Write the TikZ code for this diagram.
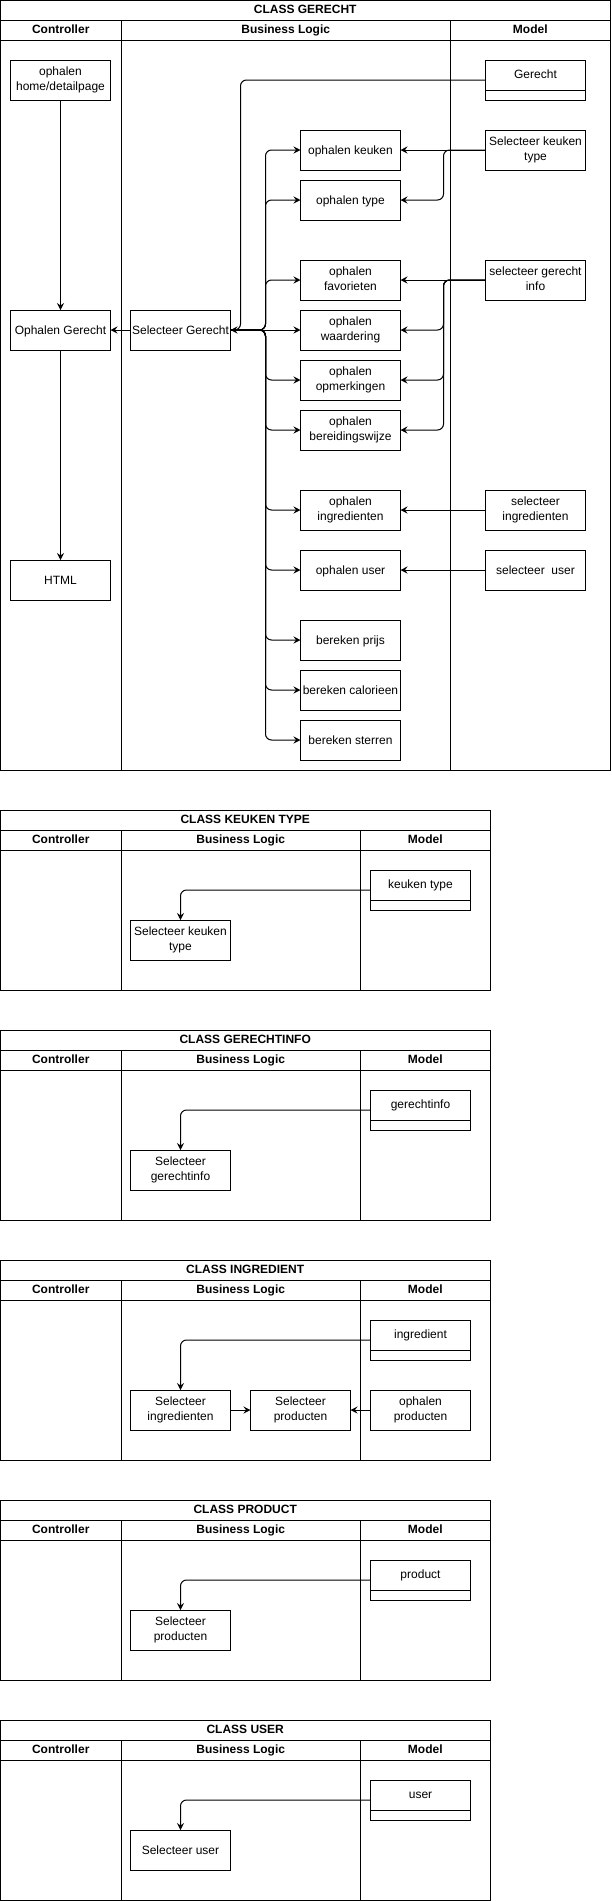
\documentclass[tikz,border=0pt]{standalone}
\usepackage{fontspec}
\setmainfont{Liberation Sans}
\usetikzlibrary{arrows.meta,positioning}
\tikzset{
  lanetitle/.style={draw,outer sep=0pt,inner sep=0pt,minimum height=20pt,text height=9pt,text depth=3pt,font=\fontsize{12}{14}\selectfont\bfseries},
  lanehead/.style={draw,outer sep=0pt,inner sep=0pt,minimum height=20pt,text height=9pt,text depth=3pt,font=\fontsize{12}{14}\selectfont\bfseries},
  lanebody/.style={draw,outer sep=0pt,inner sep=0pt},
  block/.style={draw,outer sep=0pt,inner sep=1pt,minimum width=100pt,minimum height=40pt,align=center,font=\fontsize{12}{14.4}\selectfont,
    execute at begin node={\rule[-3pt]{0pt}{14.4pt}},execute at end node={\rule[-3pt]{0pt}{14.4pt}}},
  classbox/.style={draw,outer sep=0pt,inner sep=1pt,minimum width=100pt,minimum height=40pt,font=\fontsize{12}{14.4}\selectfont,text height=8pt,text depth=12pt,
    path picture={\draw ([yshift=10pt]path picture bounding box.south west) -- ([yshift=10pt]path picture bounding box.south east);}},
  flowline/.style={-{Stealth[length=7pt,width=7pt,inset=2.5pt]},rounded corners=6pt}
}

\begin{document}
\begin{tikzpicture}[x=1pt,y=-1pt,line width=1pt,node distance=10pt]
  \useasboundingbox (0,0) rectangle (611,1901);

  % class gerecht
  \node[lanetitle,minimum width=609.5pt,anchor=north west] (gTitle) at (0.5,0.5) {CLASS GERECHT};
  \node[lanehead,minimum width=120.5pt,below right=0pt of gTitle.south west] (gCtrlHead) {Controller};
  \node[lanehead,minimum width=329.5pt,right=0pt of gCtrlHead] (gLogicHead) {Business Logic};
  \node[lanehead,minimum width=159.5pt,right=0pt of gLogicHead] (gModelHead) {Model};
  \node[lanebody,minimum width=120.5pt,minimum height=729.5pt,below=0pt of gCtrlHead] (gCtrl) {};
  \node[lanebody,minimum width=329.5pt,minimum height=729.5pt,below=0pt of gLogicHead] (gLogic) {};
  \node[lanebody,minimum width=159.5pt,minimum height=729.5pt,below=0pt of gModelHead] (gModel) {};

  \node[block] (ophHome) at (60.5,80) {ophalen\\home/detailpage};
  \node[block] (ophGerecht) at (60.5,330) {Ophalen Gerecht};
  \node[block] (html) at (60.5,580) {HTML};
  \node[block] (selGerecht) at (180.5,330) {Selecteer Gerecht};

  \node[block] (ophKeuken) at (350.5,150) {ophalen keuken};
  \node[block,below=of ophKeuken] (ophType) {ophalen type};
  \node[block] (ophFavorieten) at (350.5,280) {ophalen\\favorieten};
  \node[block,below=of ophFavorieten] (ophWaardering) {ophalen\\waardering};
  \node[block,below=of ophWaardering] (ophOpmerkingen) {ophalen\\opmerkingen};
  \node[block,below=of ophOpmerkingen] (ophBereiding) {ophalen\\bereidingswijze};
  \node[block] (ophIngredienten) at (350.5,510) {ophalen\\ingredienten};
  \node[block,below=20pt of ophIngredienten] (ophUser) {ophalen user};
  \node[block,below=30pt of ophUser] (berPrijs) {bereken prijs};
  \node[block,below=of berPrijs] (berCalorieen) {bereken calorieen};
  \node[block,below=of berCalorieen] (berSterren) {bereken sterren};

  \node[classbox] (gerecht) at (535.5,80) {Gerecht};
  \node[block] (selKeukenType) at (535.5,150) {Selecteer keuken\\type};
  \node[block] (selGerechtInfo) at (535.5,280) {selecteer gerecht\\info};
  \node[block] (selIngredienten) at (535.5,510) {selecteer\\ingredienten};
  \node[block] (selUser) at (535.5,570) {selecteer\ \ user};

  \draw[flowline] (ophHome) -- (ophGerecht);
  \draw[flowline] (ophGerecht) -- (html);
  \draw[flowline] (selGerecht) -- (ophGerecht);
  \draw[flowline] (gerecht.west) -| ([xshift=10pt]selGerecht.east) -- (selGerecht.east);
  \draw[flowline] (selGerecht.east) -- ++(35,0) |- (ophKeuken.west);
  \draw[flowline] (selGerecht.east) -- ++(35,0) |- (ophType.west);
  \draw[flowline] (selGerecht.east) -- ++(35,0) |- (ophFavorieten.west);
  \draw[flowline] (selGerecht.east) -- (ophWaardering.west);
  \draw[flowline] (selGerecht.east) -- ++(35,0) |- (ophOpmerkingen.west);
  \draw[flowline] (selGerecht.east) -- ++(35,0) |- (ophBereiding.west);
  \draw[flowline] (selGerecht.east) -- ++(35,0) |- (ophIngredienten.west);
  \draw[flowline] (selGerecht.east) -- ++(35,0) |- (ophUser.west);
  \draw[flowline] (selGerecht.east) -- ++(35,0) |- (berPrijs.west);
  \draw[flowline] (selGerecht.east) -- ++(35,0) |- (berCalorieen.west);
  \draw[flowline] (selGerecht.east) -- ++(35,0) |- (berSterren.west);
  \draw[flowline] (selKeukenType) -- (ophKeuken);
  \draw[flowline] (selKeukenType.west) -- ++(-42,0) |- (ophType.east);
  \draw[flowline] (selGerechtInfo) -- (ophFavorieten);
  \draw[flowline] (selGerechtInfo.west) -- ++(-42,0) |- (ophWaardering.east);
  \draw[flowline] (selGerechtInfo.west) -- ++(-42,0) |- (ophOpmerkingen.east);
  \draw[flowline] (selGerechtInfo.west) -- ++(-42,0) |- (ophBereiding.east);
  \draw[flowline] (selIngredienten) -- (ophIngredienten);
  \draw[flowline] (selUser) -- (ophUser);

  % class keuken type
  \node[lanetitle,minimum width=489.5pt,anchor=north west] (kTitle) at (0.5,810) {CLASS KEUKEN TYPE};
  \node[lanehead,minimum width=120.5pt,below right=0pt of kTitle.south west] (kCtrlHead) {Controller};
  \node[lanehead,minimum width=239.5pt,right=0pt of kCtrlHead] (kLogicHead) {Business Logic};
  \node[lanehead,minimum width=129.5pt,right=0pt of kLogicHead] (kModelHead) {Model};
  \node[lanebody,minimum width=120.5pt,minimum height=140pt,below=0pt of kCtrlHead] (kCtrl) {};
  \node[lanebody,minimum width=239.5pt,minimum height=140pt,below=0pt of kLogicHead] (kLogic) {};
  \node[lanebody,minimum width=129.5pt,minimum height=140pt,below=0pt of kModelHead] (kModel) {};
  \node[classbox] (keukenType) at (420.5,890) {keuken type};
  \node[block] (kSelKeukenType) at (180.5,940) {Selecteer keuken\\type};
  \draw[flowline] (keukenType.west) -| (kSelKeukenType.north);

  % class gerechtinfo
  \node[lanetitle,minimum width=489.5pt,anchor=north west] (iTitle) at (0.5,1030) {CLASS GERECHTINFO};
  \node[lanehead,minimum width=120.5pt,below right=0pt of iTitle.south west] (iCtrlHead) {Controller};
  \node[lanehead,minimum width=239.5pt,right=0pt of iCtrlHead] (iLogicHead) {Business Logic};
  \node[lanehead,minimum width=129.5pt,right=0pt of iLogicHead] (iModelHead) {Model};
  \node[lanebody,minimum width=120.5pt,minimum height=150pt,below=0pt of iCtrlHead] (iCtrl) {};
  \node[lanebody,minimum width=239.5pt,minimum height=150pt,below=0pt of iLogicHead] (iLogic) {};
  \node[lanebody,minimum width=129.5pt,minimum height=150pt,below=0pt of iModelHead] (iModel) {};
  \node[classbox] (gerechtinfo) at (420.5,1110) {gerechtinfo};
  \node[block] (iSelGerechtinfo) at (180.5,1170) {Selecteer\\gerechtinfo};
  \draw[flowline] (gerechtinfo.west) -| (iSelGerechtinfo.north);

  % class ingredient
  \node[lanetitle,minimum width=489.5pt,anchor=north west] (nTitle) at (0.5,1260) {CLASS INGREDIENT};
  \node[lanehead,minimum width=120.5pt,below right=0pt of nTitle.south west] (nCtrlHead) {Controller};
  \node[lanehead,minimum width=239.5pt,right=0pt of nCtrlHead] (nLogicHead) {Business Logic};
  \node[lanehead,minimum width=129.5pt,right=0pt of nLogicHead] (nModelHead) {Model};
  \node[lanebody,minimum width=120.5pt,minimum height=160pt,below=0pt of nCtrlHead] (nCtrl) {};
  \node[lanebody,minimum width=239.5pt,minimum height=160pt,below=0pt of nLogicHead] (nLogic) {};
  \node[lanebody,minimum width=129.5pt,minimum height=160pt,below=0pt of nModelHead] (nModel) {};
  \node[classbox] (ingredient) at (420.5,1340) {ingredient};
  \node[block] (nSelIngredienten) at (180.5,1410) {Selecteer\\ingredienten};
  \node[block,right=20pt of nSelIngredienten] (nSelProducten) {Selecteer\\producten};
  \node[block,right=20pt of nSelProducten] (nOphProducten) {ophalen\\producten};
  \draw[flowline] (ingredient.west) -| (nSelIngredienten.north);
  \draw[flowline] (nSelIngredienten) -- (nSelProducten);
  \draw[flowline] (nOphProducten) -- (nSelProducten);

  % class product
  \node[lanetitle,minimum width=489.5pt,anchor=north west] (pTitle) at (0.5,1500) {CLASS PRODUCT};
  \node[lanehead,minimum width=120.5pt,below right=0pt of pTitle.south west] (pCtrlHead) {Controller};
  \node[lanehead,minimum width=239.5pt,right=0pt of pCtrlHead] (pLogicHead) {Business Logic};
  \node[lanehead,minimum width=129.5pt,right=0pt of pLogicHead] (pModelHead) {Model};
  \node[lanebody,minimum width=120.5pt,minimum height=140pt,below=0pt of pCtrlHead] (pCtrl) {};
  \node[lanebody,minimum width=239.5pt,minimum height=140pt,below=0pt of pLogicHead] (pLogic) {};
  \node[lanebody,minimum width=129.5pt,minimum height=140pt,below=0pt of pModelHead] (pModel) {};
  \node[classbox] (product) at (420.5,1580) {product};
  \node[block] (pSelProducten) at (180.5,1630) {Selecteer\\producten};
  \draw[flowline] (product.west) -| (pSelProducten.north);

  % class user
  \node[lanetitle,minimum width=489.5pt,anchor=north west] (uTitle) at (0.5,1720) {CLASS USER};
  \node[lanehead,minimum width=120.5pt,below right=0pt of uTitle.south west] (uCtrlHead) {Controller};
  \node[lanehead,minimum width=239.5pt,right=0pt of uCtrlHead] (uLogicHead) {Business Logic};
  \node[lanehead,minimum width=129.5pt,right=0pt of uLogicHead] (uModelHead) {Model};
  \node[lanebody,minimum width=120.5pt,minimum height=140pt,below=0pt of uCtrlHead] (uCtrl) {};
  \node[lanebody,minimum width=239.5pt,minimum height=140pt,below=0pt of uLogicHead] (uLogic) {};
  \node[lanebody,minimum width=129.5pt,minimum height=140pt,below=0pt of uModelHead] (uModel) {};
  \node[classbox] (user) at (420.5,1800) {user};
  \node[block] (uSelUser) at (180.5,1850) {Selecteer user};
  \draw[flowline] (user.west) -| (uSelUser.north);
\end{tikzpicture}
\end{document}
